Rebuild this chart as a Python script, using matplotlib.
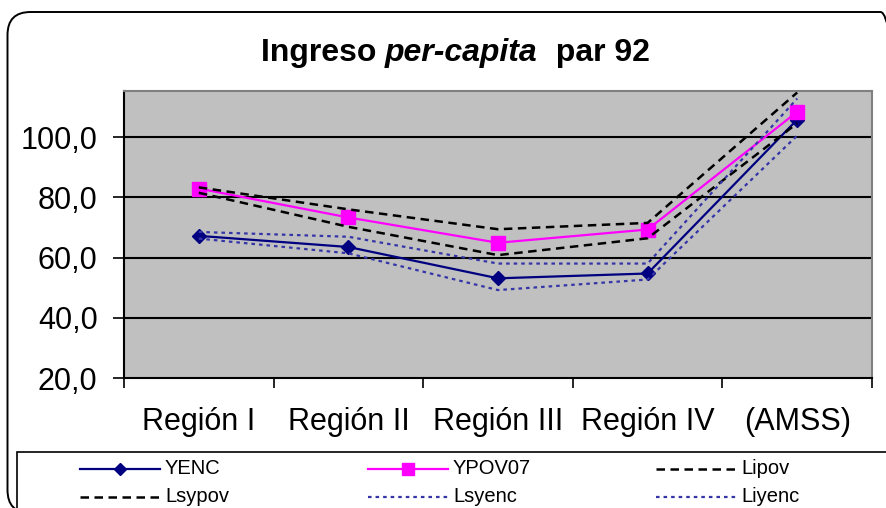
"""Ingreso per-capita par 92: YENC / YPOV07 with their confidence limits."""

import matplotlib

matplotlib.use("Agg")
import matplotlib.pyplot as plt
from matplotlib.lines import Line2D
from matplotlib.patches import FancyBboxPatch, Rectangle
from matplotlib.ticker import FixedLocator, FuncFormatter

plt.rcParams["font.family"] = ["Liberation Sans", "DejaVu Sans"]

categories = ["Región I", "Región II", "Región III", "Región IV", "(AMSS)"]
yenc = [67.2, 63.5, 53.1, 54.7, 105.8]
ypov07 = [82.9, 73.3, 64.9, 69.3, 108.4]
lipov = [81.5, 70.2, 60.8, 66.4, 104.6]
lsypov = [83.3, 76.0, 69.4, 71.5, 114.8]
lsyenc = [68.5, 66.9, 58.0, 58.0, 112.8]
liyenc = [66.3, 61.4, 49.2, 52.7, 100.5]
y_ticks = [20, 40, 60, 80, 100]

NAVY = "#000080"
MAGENTA = "#FF00FF"
DOTBLUE = "#3535A8"

series = [
    ("YENC", yenc, dict(color=NAVY, lw=1.6, marker="D", ms=7.5, mfc=NAVY, mec=NAVY)),
    ("YPOV07", ypov07, dict(color=MAGENTA, lw=1.6, marker="s", ms=9.5, mfc=MAGENTA, mec=MAGENTA)),
    ("Lipov", lipov, dict(color="black", lw=1.8, ls=(0, (3.4, 2.2)))),
    ("Lsypov", lsypov, dict(color="black", lw=1.8, ls=(0, (3.4, 2.2)))),
    ("Lsyenc", lsyenc, dict(color=DOTBLUE, lw=1.6, ls=(0, (1.6, 1.8)))),
    ("Liyenc", liyenc, dict(color=DOTBLUE, lw=1.6, ls=(0, (1.6, 1.8)))),
]

W, H = 886, 508
fig = plt.figure(figsize=(W / 100, H / 100), dpi=100)
px = fig.dpi_scale_trans  # inches; 1 px = 0.01 in


def fx(x):
    return x / W


def fy(y):
    return 1 - y / H


# outer chart frame (rounded, running off the right edge)
fig.patches.append(FancyBboxPatch((0.075, -0.05), 8.96, 4.96 + 0.05,
                                  boxstyle="round,pad=0,rounding_size=0.23",
                                  transform=px, fill=False, ec="black", lw=1.4))
# legend frame
fig.patches.append(Rectangle((0.17, -0.5), 9.0, (H - 452) / 100 + 0.5,
                             transform=px, fill=False, ec="black", lw=1.2))

ax = fig.add_axes([fx(124), fy(378), fx(872) - fx(124), fy(91) - fy(378)])
ax.set_facecolor("#C0C0C0")
x = list(range(len(categories)))
for name, vals, style in series:
    ax.plot(x, vals, label=name, **style)

ax.set_xlim(-0.5, len(categories) - 0.5)
ax.set_ylim(20, 115.3)
ax.yaxis.set_major_locator(FixedLocator(y_ticks))
ax.yaxis.set_major_formatter(FuncFormatter(lambda v, p: f"{v:.1f}".replace(".", ",")))
for v in y_ticks[1:]:
    ax.axhline(v, color="black", lw=1.5, zorder=1)
ax.tick_params(axis="y", direction="out", length=8, width=1.2, pad=11, labelsize=22)

ax.set_xticks([i - 0.5 for i in range(len(categories) + 1)])
ax.set_xticklabels([])
ax.set_xticks(x, minor=True)
ax.set_xticklabels(categories, minor=True)
ax.tick_params(axis="x", which="major", direction="out", length=7, width=1.2)
ax.tick_params(axis="x", which="minor", length=0, pad=21, labelsize=22)

for side in ("left", "bottom"):
    ax.spines[side].set_color("black")
    ax.spines[side].set_linewidth(1.5)
for side in ("top", "right"):
    ax.spines[side].set_color("#808080")
    ax.spines[side].set_linewidth(1.5)

# title with italic middle part
renderer = fig.canvas.get_renderer()
parts = [("Ingreso ", "normal"), ("per-capita", "italic"), ("  par 92", "normal")]
texts = []
for s, st in parts:
    t = fig.text(0, fy(61), s, fontsize=23, fontweight="bold", style=st, va="baseline")
    texts.append(t)
widths = [t.get_window_extent(renderer).width for t in texts]
x0 = 455 - sum(widths) / 2
for t, w in zip(texts, widths):
    t.set_x(fx(x0))
    x0 += w

# legend, three columns by two rows
col_x = [80, 368, 656]
row_y = [469, 497]
for i, (name, vals, style) in enumerate(series):
    cx, cy = col_x[i % 3], row_y[i // 3]
    ln = Line2D([fx(cx), fx(cx + 80)], [fy(cy), fy(cy)], transform=fig.transFigure,
                **{k: v for k, v in style.items() if k != "marker"})
    fig.lines.append(ln)
    if "marker" in style:
        mk = Line2D([fx(cx + 40)], [fy(cy)], transform=fig.transFigure, ls="none",
                    marker=style["marker"], ms=style["ms"] * 0.85,
                    mfc=style["mfc"], mec=style["mec"])
        fig.lines.append(mk)
    fig.text(fx(cx + 85), fy(cy), name, fontsize=14.5, va="center", ha="left")

fig.savefig("out.png", dpi=100)
